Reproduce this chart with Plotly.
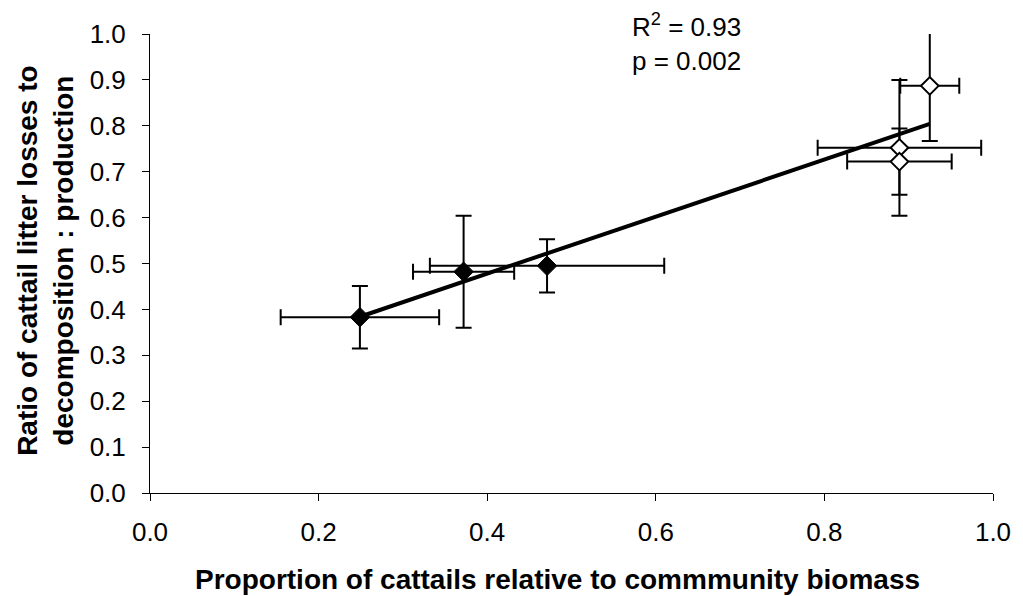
import plotly.graph_objects as go

# Data
solid_x = [0.249, 0.372, 0.471]
solid_y = [0.383, 0.482, 0.495]
solid_xerr = [0.094, 0.060, 0.139]
solid_yerr = [0.068, 0.122, 0.058]

open_x = [0.925, 0.889, 0.889]
open_y = [0.887, 0.752, 0.722]
open_xerr = [0.035, 0.097, 0.062]
open_yerr = [0.120, 0.148, 0.072]

trend_x = [0.249, 0.925]
trend_y = [0.384, 0.804]

x_ticks = [0.0, 0.2, 0.4, 0.6, 0.8, 1.0]
y_ticks = [0.0, 0.1, 0.2, 0.3, 0.4, 0.5, 0.6, 0.7, 0.8, 0.9, 1.0]

FONT = "Arial, Liberation Sans, sans-serif"

fig = go.Figure()

fig.add_trace(go.Scatter(
    x=trend_x, y=trend_y, mode="lines",
    line=dict(color="black", width=4), showlegend=False, hoverinfo="skip"))

fig.add_trace(go.Scatter(
    x=solid_x, y=solid_y, mode="markers",
    marker=dict(symbol="diamond", size=15, color="black",
                line=dict(color="black", width=1)),
    error_x=dict(type="data", array=solid_xerr, color="black", thickness=2, width=8),
    error_y=dict(type="data", array=solid_yerr, color="black", thickness=2, width=8),
    showlegend=False))

fig.add_trace(go.Scatter(
    x=open_x, y=open_y, mode="markers",
    marker=dict(symbol="diamond", size=13.5, color="white",
                line=dict(color="black", width=2)),
    error_x=dict(type="data", array=open_xerr, color="black", thickness=2, width=8),
    error_y=dict(type="data", array=open_yerr, color="black", thickness=2, width=8),
    showlegend=False))

axis_common = dict(
    showgrid=False, zeroline=False, showline=True, linecolor="black", linewidth=1,
    ticks="outside", ticklen=7, tickwidth=1, tickcolor="black",
    tickfont=dict(family=FONT, size=26, color="black"), tickformat=".1f",
)

fig.update_xaxes(range=[0, 1], tickvals=x_ticks, ticklabelstandoff=9, **axis_common)
fig.update_yaxes(range=[0, 1], tickvals=y_ticks, ticklabelstandoff=11, **axis_common)

fig.add_annotation(
    text="R<sup>2</sup> = 0.93<br>p = 0.002", xref="paper", yref="paper",
    x=(748 - 150) / 850, y=(493 - 42) / 459, xanchor="right", yanchor="middle",
    align="right", showarrow=False, font=dict(family=FONT, size=26, color="black"))

fig.add_annotation(
    text="<b>Proportion of cattails relative to commmunity biomass</b>",
    xref="paper", yref="paper", x=(561 - 150) / 850, y=(493 - 579) / 459,
    xanchor="center", yanchor="middle", showarrow=False,
    font=dict(family=FONT, size=28, color="black"))

fig.add_annotation(
    text="<b>Ratio of cattail litter losses to<br>decomposition : production</b>",
    xref="paper", yref="paper", x=(44 - 150) / 850, y=(493 - 260) / 459,
    xanchor="center", yanchor="middle", textangle=-90, showarrow=False,
    font=dict(family=FONT, size=28, color="black"))

fig.update_layout(
    width=1023, height=596,
    margin=dict(l=150, r=23, t=34, b=103),
    paper_bgcolor="white", plot_bgcolor="white",
)

fig.write_html("out.html")
